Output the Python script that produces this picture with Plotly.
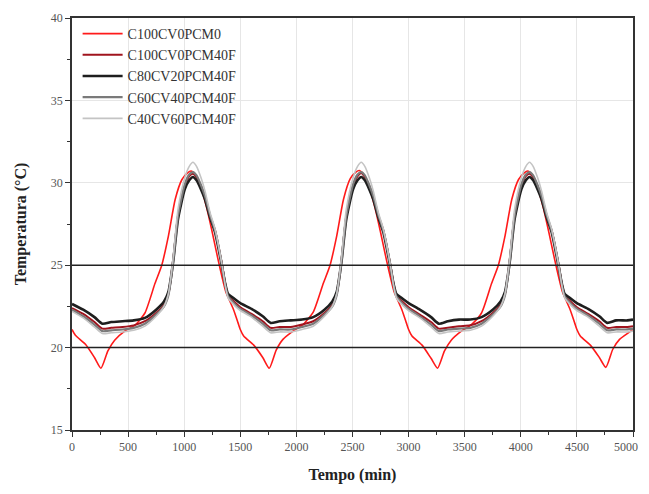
import plotly.graph_objects as go

# ---- data ----
red_time = [0, 30, 120, 200, 258, 320, 380, 470, 560, 650, 740, 800, 860, 920, 980, 1030, 1060, 1100, 1150, 1200, 1250, 1300, 1340, 1370, 1395, 1440, 1480,
            1500, 1530, 1620, 1700, 1758, 1820, 1880, 1970, 2060, 2150, 2240, 2300, 2360, 2420, 2480, 2530, 2560, 2600, 2650, 2700, 2750, 2800, 2840, 2870, 2895, 2940, 2980,
            3000, 3030, 3120, 3200, 3258, 3320, 3380, 3470, 3560, 3650, 3740, 3800, 3860, 3920, 3980, 4030, 4060, 4100, 4150, 4200, 4250, 4300, 4340, 4370, 4395, 4440, 4480,
            4500, 4530, 4620, 4700, 4758, 4820, 4880, 4970, 5000]
c100cv0pcm0 = [21.1, 20.75, 20.2, 19.4, 18.75, 19.8, 20.45, 21.0, 21.35, 22.1, 23.9, 25.0, 26.8, 29.0, 30.2, 30.6, 30.72, 30.5, 29.7, 28.5, 27.0, 25.4, 24.2, 23.4, 23.0, 22.3, 21.5,
               21.1, 20.7, 20.15, 19.4, 18.75, 19.85, 20.5, 21.0, 21.4, 22.15, 23.9, 25.0, 26.8, 29.0, 30.25, 30.65, 30.75, 30.5, 29.7, 28.5, 27.0, 25.4, 24.2, 23.4, 23.0, 22.3, 21.5,
               21.1, 20.7, 20.15, 19.35, 18.75, 19.8, 20.45, 21.0, 21.4, 22.1, 23.9, 25.0, 26.8, 29.0, 30.2, 30.6, 30.72, 30.5, 29.7, 28.5, 27.0, 25.4, 24.2, 23.4, 23.0, 22.3, 21.5,
               21.1, 20.7, 20.15, 19.4, 18.8, 19.9, 20.5, 20.95, 21.1]

pcm_time = [0, 100, 200, 270, 350, 450, 550, 650, 750, 820, 860, 885, 905, 945, 1005, 1045, 1078, 1110, 1150, 1185, 1230, 1275, 1335, 1365, 1392, 1450,
            1500, 1600, 1700, 1770, 1850, 1950, 2050, 2150, 2250, 2320, 2360, 2385, 2405, 2445, 2505, 2545, 2578, 2610, 2650, 2685, 2730, 2775, 2835, 2865, 2892, 2950,
            3000, 3100, 3200, 3270, 3350, 3450, 3550, 3650, 3750, 3820, 3860, 3885, 3905, 3945, 4005, 4045, 4078, 4110, 4150, 4185, 4230, 4275, 4335, 4365, 4392, 4450,
            4500, 4600, 4700, 4770, 4850, 4950, 5000]
c100cv0pcm40f = [22.4, 22.05, 21.55, 21.15, 21.2, 21.25, 21.35, 21.6, 22.1, 22.6, 23.3, 24.4, 25.5, 28.0, 29.8, 30.4, 30.55, 30.35, 29.8, 29.15, 28.0, 27.1, 25.1, 23.9, 23.15, 22.75,
                 22.45, 22.05, 21.6, 21.2, 21.25, 21.25, 21.4, 21.6, 22.1, 22.6, 23.3, 24.4, 25.5, 28.0, 29.8, 30.4, 30.6, 30.35, 29.8, 29.15, 28.0, 27.1, 25.1, 23.9, 23.15, 22.75,
                 22.45, 22.0, 21.55, 21.15, 21.2, 21.3, 21.35, 21.6, 22.1, 22.6, 23.3, 24.4, 25.5, 28.0, 29.8, 30.4, 30.55, 30.35, 29.8, 29.15, 28.0, 27.1, 25.1, 23.9, 23.15, 22.75,
                 22.45, 22.05, 21.6, 21.2, 21.25, 21.25, 21.3]
c80cv20pcm40f = [22.65, 22.3, 21.85, 21.45, 21.55, 21.6, 21.65, 21.8, 22.3, 22.8, 23.4, 24.4, 25.4, 27.8, 29.6, 30.15, 30.35, 30.15, 29.6, 29.0, 27.9, 27.0, 25.0, 23.9, 23.25, 22.95,
                 22.7, 22.35, 21.9, 21.5, 21.6, 21.65, 21.7, 21.85, 22.3, 22.8, 23.4, 24.4, 25.4, 27.8, 29.6, 30.15, 30.35, 30.15, 29.6, 29.0, 27.9, 27.0, 25.0, 23.9, 23.25, 22.95,
                 22.7, 22.3, 21.85, 21.45, 21.6, 21.7, 21.7, 21.85, 22.3, 22.8, 23.4, 24.4, 25.4, 27.8, 29.6, 30.15, 30.35, 30.15, 29.6, 29.0, 27.9, 27.0, 25.0, 23.9, 23.25, 22.95,
                 22.7, 22.35, 21.9, 21.5, 21.65, 21.65, 21.7]
c60cv40pcm40f = [22.3, 21.9, 21.4, 21.0, 21.05, 21.1, 21.2, 21.45, 22.0, 22.5, 23.2, 24.3, 25.4, 28.0, 29.9, 30.5, 30.65, 30.45, 29.85, 29.2, 28.05, 27.1, 25.1, 23.85, 23.1, 22.65,
                 22.35, 21.95, 21.45, 21.05, 21.1, 21.1, 21.25, 21.45, 22.0, 22.5, 23.2, 24.3, 25.4, 28.0, 29.9, 30.5, 30.65, 30.45, 29.85, 29.2, 28.05, 27.1, 25.1, 23.85, 23.1, 22.65,
                 22.35, 21.9, 21.4, 21.0, 21.1, 21.15, 21.2, 21.45, 22.0, 22.5, 23.2, 24.3, 25.4, 28.0, 29.9, 30.5, 30.65, 30.45, 29.85, 29.2, 28.05, 27.1, 25.1, 23.85, 23.1, 22.65,
                 22.35, 21.95, 21.45, 21.05, 21.1, 21.1, 21.15]
c40cv60pcm40f = [22.2, 21.8, 21.25, 20.85, 20.9, 20.95, 21.05, 21.3, 21.9, 22.5, 23.3, 24.5, 25.7, 28.4, 30.3, 31.0, 31.25, 31.0, 30.3, 29.5, 28.2, 27.2, 25.1, 23.8, 23.0, 22.55,
                 22.25, 21.85, 21.3, 20.9, 20.95, 20.95, 21.1, 21.3, 21.9, 22.5, 23.3, 24.5, 25.7, 28.4, 30.3, 31.0, 31.25, 31.0, 30.3, 29.5, 28.2, 27.2, 25.1, 23.8, 23.0, 22.55,
                 22.25, 21.8, 21.25, 20.85, 20.95, 21.0, 21.05, 21.3, 21.9, 22.5, 23.3, 24.5, 25.7, 28.4, 30.3, 31.0, 31.25, 31.0, 30.3, 29.5, 28.2, 27.2, 25.1, 23.8, 23.0, 22.55,
                 22.25, 21.85, 21.3, 20.9, 20.95, 20.95, 21.0]

series_names = ["C100CV0PCM0", "C100CV0PCM40F", "C80CV20PCM40F", "C60CV40PCM40F", "C40CV60PCM40F"]
reference_levels = [20, 25]
x_ticks = [0, 500, 1000, 1500, 2000, 2500, 3000, 3500, 4000, 4500, 5000]
x_tick_labels = ["0", "500", "1000", "1500", "2000", "2500", "3000", "3500", "4000", "4500", "5000"]
y_ticks = [15, 20, 25, 30, 35, 40]

FONT = "Liberation Serif"
TICKFONT = dict(family=FONT, size=12, color="#555555")

fig = go.Figure()
styles = [
    (red_time, c100cv0pcm0, "#ff1a1a", 1.6),
    (pcm_time, c100cv0pcm40f, "#a0141e", 2.0),
    (pcm_time, c80cv20pcm40f, "#1e1e1e", 2.6),
    (pcm_time, c60cv40pcm40f, "#7a7a7a", 2.2),
    (pcm_time, c40cv60pcm40f, "#c4c4c4", 1.6),
]
for name, (t, v, col, w) in zip(series_names, styles):
    fig.add_trace(go.Scatter(x=t, y=v, mode="lines", name=name,
                             line=dict(color=col, width=w, shape="spline", smoothing=0.6)))

for lvl in reference_levels:
    fig.add_hline(y=lvl, line=dict(color="#222222", width=1.5))

axis_common = dict(showline=True, linecolor="#333333", linewidth=1.5, mirror=True,
                   ticks="outside", ticklen=5, tickwidth=1.2, tickcolor="#333333",
                   showgrid=True, gridcolor="#e6e6e6", gridwidth=1, zeroline=False,
                   automargin=False, tickfont=TICKFONT)

# last x label is drawn as an annotation nudged left so it is not clipped at the page edge
shown_x_labels = x_tick_labels[:-1] + [""]
fig.update_xaxes(range=[0, 5000], tickvals=x_ticks, ticktext=shown_x_labels,
                 minor=dict(dtick=250, ticks="outside", ticklen=3, tickcolor="#333333", showgrid=False),
                 title=dict(text="<b>Tempo (min)</b>", font=dict(family=FONT, size=16, color="#222222"), standoff=27),
                 **axis_common)
fig.update_yaxes(range=[15, 40], tickvals=y_ticks,
                 minor=dict(dtick=2.5, ticks="outside", ticklen=3, tickcolor="#333333", showgrid=False),
                 title=dict(text="<b>Temperatura (°C)</b>", font=dict(family=FONT, size=16, color="#222222"), standoff=20),
                 **axis_common)

fig.add_annotation(x=x_ticks[-1], xref="x", y=0, yref="paper", text=x_tick_labels[-1],
                   showarrow=False, xanchor="right", yanchor="top", xshift=7, yshift=-8,
                   font=TICKFONT)

# page body adds an 8px margin; size the figure so the plot area lands where the reference's is
fig.update_layout(
    width=641, height=476,
    margin=dict(l=64, r=16, t=10, b=54),
    paper_bgcolor="white", plot_bgcolor="white",
    font=dict(family=FONT),
    legend=dict(x=0.01, y=1.0, xanchor="left", yanchor="top",
                bgcolor="rgba(0,0,0,0)", borderwidth=0,
                font=dict(family=FONT, size=14, color="#333333"),
                tracegroupgap=0, itemwidth=40),
    showlegend=True,
)

fig.write_html("out.html")
